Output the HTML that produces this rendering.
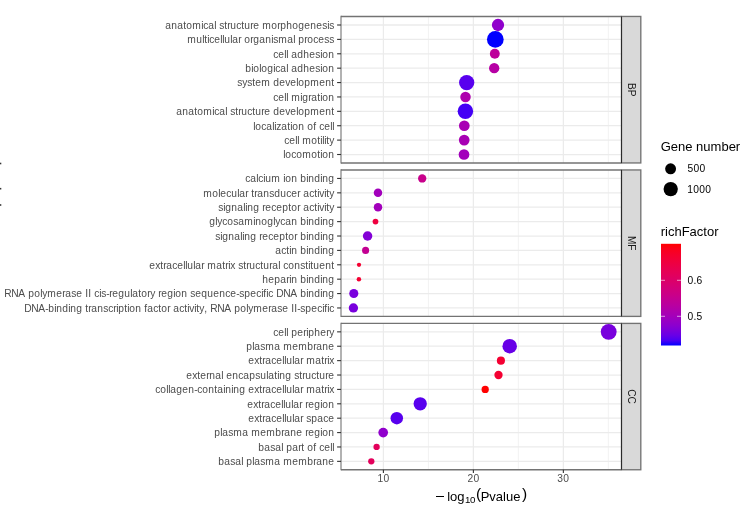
<!DOCTYPE html><html><head><meta charset="utf-8"><style>html,body{margin:0;padding:0;background:#fff;}svg{display:block;will-change:transform;}text{font-family:"Liberation Sans",sans-serif;white-space:pre;}</style></head><body>
<svg width="749" height="515" viewBox="0 0 749 515">
<rect width="749" height="515" fill="#fff"/>
<rect x="0" y="162.70" width="1.3" height="1.6" fill="#333"/>
<rect x="0" y="187.90" width="1.3" height="1.6" fill="#333"/>
<rect x="0" y="204.20" width="1.3" height="1.6" fill="#333"/>
<rect x="341.0" y="16.45" width="280.5" height="146.5" fill="#fff"/>
<line x1="428.39" y1="16.45" x2="428.39" y2="162.95" stroke="#ebebeb" stroke-width="0.65"/>
<line x1="518.37" y1="16.45" x2="518.37" y2="162.95" stroke="#ebebeb" stroke-width="0.65"/>
<line x1="608.3499999999999" y1="16.45" x2="608.3499999999999" y2="162.95" stroke="#ebebeb" stroke-width="0.65"/>
<line x1="383.4" y1="16.45" x2="383.4" y2="162.95" stroke="#ebebeb" stroke-width="1.26"/>
<line x1="473.38" y1="16.45" x2="473.38" y2="162.95" stroke="#ebebeb" stroke-width="1.26"/>
<line x1="563.3599999999999" y1="16.45" x2="563.3599999999999" y2="162.95" stroke="#ebebeb" stroke-width="1.26"/>
<line x1="341.0" y1="25.00" x2="621.5" y2="25.00" stroke="#ebebeb" stroke-width="1.26"/>
<line x1="341.0" y1="39.39" x2="621.5" y2="39.39" stroke="#ebebeb" stroke-width="1.26"/>
<line x1="341.0" y1="53.78" x2="621.5" y2="53.78" stroke="#ebebeb" stroke-width="1.26"/>
<line x1="341.0" y1="68.17" x2="621.5" y2="68.17" stroke="#ebebeb" stroke-width="1.26"/>
<line x1="341.0" y1="82.56" x2="621.5" y2="82.56" stroke="#ebebeb" stroke-width="1.26"/>
<line x1="341.0" y1="96.95" x2="621.5" y2="96.95" stroke="#ebebeb" stroke-width="1.26"/>
<line x1="341.0" y1="111.34" x2="621.5" y2="111.34" stroke="#ebebeb" stroke-width="1.26"/>
<line x1="341.0" y1="125.73" x2="621.5" y2="125.73" stroke="#ebebeb" stroke-width="1.26"/>
<line x1="341.0" y1="140.12" x2="621.5" y2="140.12" stroke="#ebebeb" stroke-width="1.26"/>
<line x1="341.0" y1="154.51" x2="621.5" y2="154.51" stroke="#ebebeb" stroke-width="1.26"/>
<circle cx="498.0" cy="25.00" r="6.15" fill="#9000cc"/>
<circle cx="495.3" cy="39.39" r="8.35" fill="#0000ff"/>
<circle cx="494.8" cy="53.78" r="4.95" fill="#bd009b"/>
<circle cx="494.2" cy="68.17" r="5.15" fill="#b600a4"/>
<circle cx="466.7" cy="82.56" r="7.65" fill="#5800ee"/>
<circle cx="465.5" cy="96.95" r="5.25" fill="#ae00ad"/>
<circle cx="465.4" cy="111.34" r="7.75" fill="#4300f5"/>
<circle cx="464.3" cy="125.73" r="5.35" fill="#a800b4"/>
<circle cx="464.2" cy="140.12" r="5.35" fill="#a800b4"/>
<circle cx="464.0" cy="154.51" r="5.35" fill="#a200bb"/>
<path d="M621.5,16.45H341.0" stroke="#737373" stroke-width="1.35" fill="none"/>
<path d="M621.5,162.95H341.0" stroke="#737373" stroke-width="1.35" fill="none"/>
<path d="M341.0,15.85V163.54999999999998" stroke="#737373" stroke-width="1.1" fill="none"/>
<rect x="621.5" y="16.45" width="19.299999999999955" height="146.5" fill="#d9d9d9" stroke="#737373" stroke-width="1.35"/>
<line x1="621.5" y1="16.45" x2="621.5" y2="162.95" stroke="#2b2b2b" stroke-width="1.05"/>
<g transform="translate(628.15,89.70) rotate(90)"><text x="-6.74 0" y="0" font-size="10.1" fill="#1a1a1a">BP</text></g>
<line x1="337.1" y1="25.00" x2="341.0" y2="25.00" stroke="#333" stroke-width="1.1"/>
<text x="165.2 171.2 177.2 183.2 186.2 192.2 201.2 203.2 208.2 214.2 216.2 219.2 224.2 227.2 230.2 236.2 241.2 244.2 250.2 253.2 259.2 262.2 271.2 277.2 280.2 286.2 292.2 298.2 304.2 310.2 316.2 322.2 327.2 329.2" y="29" font-size="10.25" fill="#4d4d4d">anatomical structure morphogenesis</text>
<line x1="337.1" y1="39.39" x2="341.0" y2="39.39" stroke="#333" stroke-width="1.1"/>
<text x="187.2 196.2 202.2 204.2 207.2 209.2 214.2 220.2 222.2 224.2 230.2 232.2 238.2 241.2 244.2 250.2 253.2 259.2 265.2 271.2 273.2 278.2 287.2 293.2 295.2 298.2 304.2 307.2 313.2 318.2 324.2 329.2" y="43" font-size="10.25" fill="#4d4d4d">multicellular organismal process</text>
<line x1="337.1" y1="53.78" x2="341.0" y2="53.78" stroke="#333" stroke-width="1.1"/>
<text x="273.2 278.2 284.2 286.2 288.2 291.2 297.2 303.2 309.2 315.2 320.2 322.2 328.2" y="58" font-size="10.25" fill="#4d4d4d">cell adhesion</text>
<line x1="337.1" y1="68.17" x2="341.0" y2="68.17" stroke="#333" stroke-width="1.1"/>
<text x="245.2 251.2 253.2 259.2 261.2 267.2 273.2 275.2 280.2 286.2 288.2 291.2 297.2 303.2 309.2 315.2 320.2 322.2 328.2" y="72" font-size="10.25" fill="#4d4d4d">biological adhesion</text>
<line x1="337.1" y1="82.56" x2="341.0" y2="82.56" stroke="#333" stroke-width="1.1"/>
<text x="237.2 242.2 247.2 252.2 255.2 261.2 270.2 273.2 279.2 285.2 290.2 296.2 298.2 304.2 310.2 319.2 325.2 331.2" y="86" font-size="10.25" fill="#4d4d4d">system development</text>
<line x1="337.1" y1="96.95" x2="341.0" y2="96.95" stroke="#333" stroke-width="1.1"/>
<text x="273.2 278.2 284.2 286.2 288.2 291.2 300.2 302.2 308.2 311.2 317.2 320.2 322.2 328.2" y="101" font-size="10.25" fill="#4d4d4d">cell migration</text>
<line x1="337.1" y1="111.34" x2="341.0" y2="111.34" stroke="#333" stroke-width="1.1"/>
<text x="176.2 182.2 188.2 194.2 197.2 203.2 212.2 214.2 219.2 225.2 227.2 230.2 235.2 238.2 241.2 247.2 252.2 255.2 261.2 264.2 270.2 273.2 279.2 285.2 290.2 296.2 298.2 304.2 310.2 319.2 325.2 331.2" y="115" font-size="10.25" fill="#4d4d4d">anatomical structure development</text>
<line x1="337.1" y1="125.73" x2="341.0" y2="125.73" stroke="#333" stroke-width="1.1"/>
<text x="253.2 255.2 261.2 266.2 272.2 274.2 276.2 281.2 287.2 290.2 292.2 298.2 304.2 307.2 313.2 316.2 319.2 324.2 330.2 332.2" y="130" font-size="10.25" fill="#4d4d4d">localization of cell</text>
<line x1="337.1" y1="140.12" x2="341.0" y2="140.12" stroke="#333" stroke-width="1.1"/>
<text x="284.2 289.2 295.2 297.2 299.2 302.2 311.2 317.2 320.2 322.2 324.2 326.2 329.2" y="144" font-size="10.25" fill="#4d4d4d">cell motility</text>
<line x1="337.1" y1="154.51" x2="341.0" y2="154.51" stroke="#333" stroke-width="1.1"/>
<text x="283.2 285.2 291.2 296.2 302.2 311.2 317.2 320.2 322.2 328.2" y="158" font-size="10.25" fill="#4d4d4d">locomotion</text>
<rect x="341.0" y="169.95" width="280.5" height="146.45" fill="#fff"/>
<line x1="428.39" y1="169.95" x2="428.39" y2="316.4" stroke="#ebebeb" stroke-width="0.65"/>
<line x1="518.37" y1="169.95" x2="518.37" y2="316.4" stroke="#ebebeb" stroke-width="0.65"/>
<line x1="608.3499999999999" y1="169.95" x2="608.3499999999999" y2="316.4" stroke="#ebebeb" stroke-width="0.65"/>
<line x1="383.4" y1="169.95" x2="383.4" y2="316.4" stroke="#ebebeb" stroke-width="1.26"/>
<line x1="473.38" y1="169.95" x2="473.38" y2="316.4" stroke="#ebebeb" stroke-width="1.26"/>
<line x1="563.3599999999999" y1="169.95" x2="563.3599999999999" y2="316.4" stroke="#ebebeb" stroke-width="1.26"/>
<line x1="341.0" y1="178.45" x2="621.5" y2="178.45" stroke="#ebebeb" stroke-width="1.26"/>
<line x1="341.0" y1="192.84" x2="621.5" y2="192.84" stroke="#ebebeb" stroke-width="1.26"/>
<line x1="341.0" y1="207.23" x2="621.5" y2="207.23" stroke="#ebebeb" stroke-width="1.26"/>
<line x1="341.0" y1="221.62" x2="621.5" y2="221.62" stroke="#ebebeb" stroke-width="1.26"/>
<line x1="341.0" y1="236.01" x2="621.5" y2="236.01" stroke="#ebebeb" stroke-width="1.26"/>
<line x1="341.0" y1="250.40" x2="621.5" y2="250.40" stroke="#ebebeb" stroke-width="1.26"/>
<line x1="341.0" y1="264.79" x2="621.5" y2="264.79" stroke="#ebebeb" stroke-width="1.26"/>
<line x1="341.0" y1="279.18" x2="621.5" y2="279.18" stroke="#ebebeb" stroke-width="1.26"/>
<line x1="341.0" y1="293.57" x2="621.5" y2="293.57" stroke="#ebebeb" stroke-width="1.26"/>
<line x1="341.0" y1="307.96" x2="621.5" y2="307.96" stroke="#ebebeb" stroke-width="1.26"/>
<circle cx="422.2" cy="178.45" r="4.15" fill="#c8008b"/>
<circle cx="378.0" cy="192.84" r="4.25" fill="#a200bb"/>
<circle cx="378.0" cy="207.23" r="4.25" fill="#a200bb"/>
<circle cx="375.5" cy="221.62" r="2.85" fill="#ef003f"/>
<circle cx="367.6" cy="236.01" r="4.75" fill="#8300d6"/>
<circle cx="365.6" cy="250.40" r="3.55" fill="#c30092"/>
<circle cx="359.0" cy="264.79" r="2.15" fill="#f40032"/>
<circle cx="358.9" cy="279.18" r="2.25" fill="#f40032"/>
<circle cx="353.8" cy="293.57" r="4.55" fill="#7900dd"/>
<circle cx="353.4" cy="307.96" r="4.65" fill="#7900dd"/>
<path d="M621.5,169.95H341.0" stroke="#737373" stroke-width="1.35" fill="none"/>
<path d="M621.5,316.4H341.0" stroke="#737373" stroke-width="1.35" fill="none"/>
<path d="M341.0,169.35V317.0" stroke="#737373" stroke-width="1.1" fill="none"/>
<rect x="621.5" y="169.95" width="19.299999999999955" height="146.45" fill="#d9d9d9" stroke="#737373" stroke-width="1.35"/>
<line x1="621.5" y1="169.95" x2="621.5" y2="316.4" stroke="#2b2b2b" stroke-width="1.05"/>
<g transform="translate(628.15,243.17) rotate(90)"><text x="-7.29 1.12" y="0" font-size="10.1" fill="#1a1a1a">MF</text></g>
<line x1="337.1" y1="178.45" x2="341.0" y2="178.45" stroke="#333" stroke-width="1.1"/>
<text x="245.2 250.2 256.2 258.2 263.2 265.2 271.2 280.2 283.2 285.2 291.2 297.2 300.2 306.2 308.2 314.2 320.2 322.2 328.2" y="182" font-size="10.25" fill="#4d4d4d">calcium ion binding</text>
<line x1="337.1" y1="192.84" x2="341.0" y2="192.84" stroke="#333" stroke-width="1.1"/>
<text x="203.2 212.2 218.2 220.2 226.2 231.2 237.2 239.2 245.2 248.2 251.2 254.2 257.2 263.2 269.2 274.2 280.2 286.2 291.2 297.2 300.2 303.2 309.2 314.2 317.2 319.2 324.2 326.2 329.2" y="197" font-size="10.25" fill="#4d4d4d">molecular transducer activity</text>
<line x1="337.1" y1="207.23" x2="341.0" y2="207.23" stroke="#333" stroke-width="1.1"/>
<text x="218.2 223.2 225.2 231.2 237.2 243.2 245.2 247.2 253.2 259.2 262.2 265.2 271.2 276.2 282.2 288.2 291.2 297.2 300.2 303.2 309.2 314.2 317.2 319.2 324.2 326.2 329.2" y="211" font-size="10.25" fill="#4d4d4d">signaling receptor activity</text>
<line x1="337.1" y1="221.62" x2="341.0" y2="221.62" stroke="#333" stroke-width="1.1"/>
<text x="209.2 215.2 217.2 222.2 227.2 233.2 238.2 244.2 253.2 255.2 261.2 267.2 273.2 275.2 280.2 285.2 291.2 297.2 300.2 306.2 308.2 314.2 320.2 322.2 328.2" y="225" font-size="10.25" fill="#4d4d4d">glycosaminoglycan binding</text>
<line x1="337.1" y1="236.01" x2="341.0" y2="236.01" stroke="#333" stroke-width="1.1"/>
<text x="215.2 220.2 222.2 228.2 234.2 240.2 242.2 244.2 250.2 256.2 259.2 262.2 268.2 273.2 279.2 285.2 288.2 294.2 297.2 300.2 306.2 308.2 314.2 320.2 322.2 328.2" y="240" font-size="10.25" fill="#4d4d4d">signaling receptor binding</text>
<line x1="337.1" y1="250.40" x2="341.0" y2="250.40" stroke="#333" stroke-width="1.1"/>
<text x="275.2 281.2 286.2 289.2 291.2 297.2 300.2 306.2 308.2 314.2 320.2 322.2 328.2" y="254" font-size="10.25" fill="#4d4d4d">actin binding</text>
<line x1="337.1" y1="264.79" x2="341.0" y2="264.79" stroke="#333" stroke-width="1.1"/>
<text x="149.2 155.2 160.2 163.2 166.2 172.2 177.2 183.2 185.2 187.2 193.2 195.2 201.2 204.2 207.2 216.2 222.2 225.2 228.2 230.2 235.2 238.2 243.2 246.2 249.2 255.2 260.2 263.2 269.2 272.2 278.2 280.2 283.2 288.2 294.2 300.2 305.2 308.2 310.2 313.2 319.2 325.2 331.2" y="269" font-size="10.25" fill="#4d4d4d">extracellular matrix structural constituent</text>
<line x1="337.1" y1="279.18" x2="341.0" y2="279.18" stroke="#333" stroke-width="1.1"/>
<text x="262.2 268.2 274.2 280.2 286.2 289.2 291.2 297.2 300.2 306.2 308.2 314.2 320.2 322.2 328.2" y="283" font-size="10.25" fill="#4d4d4d">heparin binding</text>
<line x1="337.1" y1="293.57" x2="341.0" y2="293.57" stroke="#333" stroke-width="1.1"/>
<text x="4.2 11.2 18.2 25.2 28.2 34.2 40.2 42.2 47.2 56.2 62.2 65.2 71.2 76.2 82.2 85.2 88.2 91.2 94.2 99.2 101.2 106.2 109.2 112.2 118.2 124.2 130.2 132.2 138.2 141.2 147.2 150.2 155.2 158.2 161.2 167.2 173.2 175.2 181.2 187.2 190.2 195.2 201.2 207.2 213.2 219.2 225.2 230.2 236.2 239.2 244.2 250.2 256.2 261.2 263.2 266.2 268.2 273.2 276.2 283.2 290.2 297.2 300.2 306.2 308.2 314.2 320.2 322.2 328.2" y="297" font-size="10.25" fill="#4d4d4d">RNA polymerase II cis-regulatory region sequence-specific DNA binding</text>
<line x1="337.1" y1="307.96" x2="341.0" y2="307.96" stroke="#333" stroke-width="1.1"/>
<text x="24.2 31.2 38.2 45.2 48.2 54.2 56.2 62.2 68.2 70.2 76.2 82.2 85.2 88.2 91.2 97.2 103.2 108.2 113.2 116.2 118.2 124.2 127.2 129.2 135.2 141.2 144.2 147.2 153.2 158.2 161.2 167.2 170.2 173.2 179.2 184.2 187.2 189.2 194.2 196.2 199.2 204.2 207.2 210.2 217.2 224.2 231.2 234.2 240.2 246.2 248.2 253.2 262.2 268.2 271.2 277.2 282.2 288.2 291.2 294.2 297.2 300.2 305.2 311.2 317.2 322.2 324.2 327.2 329.2" y="312" font-size="10.25" fill="#4d4d4d">DNA-binding transcription factor activity, RNA polymerase II-specific</text>
<rect x="341.0" y="323.4" width="280.5" height="146.35000000000002" fill="#fff"/>
<line x1="428.39" y1="323.4" x2="428.39" y2="469.75" stroke="#ebebeb" stroke-width="0.65"/>
<line x1="518.37" y1="323.4" x2="518.37" y2="469.75" stroke="#ebebeb" stroke-width="0.65"/>
<line x1="608.3499999999999" y1="323.4" x2="608.3499999999999" y2="469.75" stroke="#ebebeb" stroke-width="0.65"/>
<line x1="383.4" y1="323.4" x2="383.4" y2="469.75" stroke="#ebebeb" stroke-width="1.26"/>
<line x1="473.38" y1="323.4" x2="473.38" y2="469.75" stroke="#ebebeb" stroke-width="1.26"/>
<line x1="563.3599999999999" y1="323.4" x2="563.3599999999999" y2="469.75" stroke="#ebebeb" stroke-width="1.26"/>
<line x1="341.0" y1="331.85" x2="621.5" y2="331.85" stroke="#ebebeb" stroke-width="1.26"/>
<line x1="341.0" y1="346.24" x2="621.5" y2="346.24" stroke="#ebebeb" stroke-width="1.26"/>
<line x1="341.0" y1="360.63" x2="621.5" y2="360.63" stroke="#ebebeb" stroke-width="1.26"/>
<line x1="341.0" y1="375.02" x2="621.5" y2="375.02" stroke="#ebebeb" stroke-width="1.26"/>
<line x1="341.0" y1="389.41" x2="621.5" y2="389.41" stroke="#ebebeb" stroke-width="1.26"/>
<line x1="341.0" y1="403.80" x2="621.5" y2="403.80" stroke="#ebebeb" stroke-width="1.26"/>
<line x1="341.0" y1="418.19" x2="621.5" y2="418.19" stroke="#ebebeb" stroke-width="1.26"/>
<line x1="341.0" y1="432.58" x2="621.5" y2="432.58" stroke="#ebebeb" stroke-width="1.26"/>
<line x1="341.0" y1="446.97" x2="621.5" y2="446.97" stroke="#ebebeb" stroke-width="1.26"/>
<line x1="341.0" y1="461.36" x2="621.5" y2="461.36" stroke="#ebebeb" stroke-width="1.26"/>
<circle cx="608.7" cy="331.85" r="7.95" fill="#7900dd"/>
<circle cx="509.7" cy="346.24" r="7.25" fill="#6800e7"/>
<circle cx="500.9" cy="360.63" r="4.05" fill="#f40032"/>
<circle cx="498.5" cy="375.02" r="4.15" fill="#f40032"/>
<circle cx="485.2" cy="389.41" r="3.65" fill="#ff0000"/>
<circle cx="420.2" cy="403.80" r="6.65" fill="#5800ee"/>
<circle cx="396.8" cy="418.19" r="6.25" fill="#5800ee"/>
<circle cx="383.2" cy="432.58" r="4.85" fill="#9000cc"/>
<circle cx="376.6" cy="446.97" r="3.15" fill="#e3005b"/>
<circle cx="371.3" cy="461.36" r="3.15" fill="#e3005b"/>
<path d="M621.5,323.4H341.0" stroke="#737373" stroke-width="1.35" fill="none"/>
<path d="M621.5,469.75H341.0" stroke="#737373" stroke-width="1.35" fill="none"/>
<path d="M341.0,322.79999999999995V470.35" stroke="#737373" stroke-width="1.1" fill="none"/>
<rect x="621.5" y="323.4" width="19.299999999999955" height="146.35000000000002" fill="#d9d9d9" stroke="#737373" stroke-width="1.35"/>
<line x1="621.5" y1="323.4" x2="621.5" y2="469.75" stroke="#2b2b2b" stroke-width="1.05"/>
<g transform="translate(628.15,396.57) rotate(90)"><text x="-7.29 0" y="0" font-size="10.1" fill="#1a1a1a">CC</text></g>
<line x1="337.1" y1="331.85" x2="341.0" y2="331.85" stroke="#333" stroke-width="1.1"/>
<text x="273.2 278.2 284.2 286.2 288.2 291.2 297.2 303.2 306.2 308.2 314.2 320.2 326.2 329.2" y="336" font-size="10.25" fill="#4d4d4d">cell periphery</text>
<line x1="337.1" y1="346.24" x2="341.0" y2="346.24" stroke="#333" stroke-width="1.1"/>
<text x="246.2 252.2 254.2 260.2 265.2 274.2 280.2 283.2 292.2 298.2 307.2 313.2 316.2 322.2 328.2" y="350" font-size="10.25" fill="#4d4d4d">plasma membrane</text>
<line x1="337.1" y1="360.63" x2="341.0" y2="360.63" stroke="#333" stroke-width="1.1"/>
<text x="248.2 254.2 259.2 262.2 265.2 271.2 276.2 282.2 284.2 286.2 292.2 294.2 300.2 303.2 306.2 315.2 321.2 324.2 327.2 329.2" y="364" font-size="10.25" fill="#4d4d4d">extracellular matrix</text>
<line x1="337.1" y1="375.02" x2="341.0" y2="375.02" stroke="#333" stroke-width="1.1"/>
<text x="186.2 192.2 197.2 200.2 206.2 209.2 215.2 221.2 223.2 226.2 232.2 238.2 243.2 249.2 255.2 260.2 266.2 268.2 274.2 277.2 279.2 285.2 291.2 294.2 299.2 302.2 305.2 311.2 316.2 319.2 325.2 328.2" y="379" font-size="10.25" fill="#4d4d4d">external encapsulating structure</text>
<line x1="337.1" y1="389.41" x2="341.0" y2="389.41" stroke="#333" stroke-width="1.1"/>
<text x="155.2 160.2 166.2 168.2 170.2 176.2 182.2 188.2 194.2 197.2 202.2 208.2 214.2 217.2 223.2 225.2 231.2 233.2 239.2 245.2 248.2 254.2 259.2 262.2 265.2 271.2 276.2 282.2 284.2 286.2 292.2 294.2 300.2 303.2 306.2 315.2 321.2 324.2 327.2 329.2" y="393" font-size="10.25" fill="#4d4d4d">collagen-containing extracellular matrix</text>
<line x1="337.1" y1="403.80" x2="341.0" y2="403.80" stroke="#333" stroke-width="1.1"/>
<text x="247.2 253.2 258.2 261.2 264.2 270.2 275.2 281.2 283.2 285.2 291.2 293.2 299.2 302.2 305.2 308.2 314.2 320.2 322.2 328.2" y="408" font-size="10.25" fill="#4d4d4d">extracellular region</text>
<line x1="337.1" y1="418.19" x2="341.0" y2="418.19" stroke="#333" stroke-width="1.1"/>
<text x="248.2 254.2 259.2 262.2 265.2 271.2 276.2 282.2 284.2 286.2 292.2 294.2 300.2 303.2 306.2 311.2 317.2 323.2 328.2" y="422" font-size="10.25" fill="#4d4d4d">extracellular space</text>
<line x1="337.1" y1="432.58" x2="341.0" y2="432.58" stroke="#333" stroke-width="1.1"/>
<text x="214.2 220.2 222.2 228.2 233.2 242.2 248.2 251.2 260.2 266.2 275.2 281.2 284.2 290.2 296.2 302.2 305.2 308.2 314.2 320.2 322.2 328.2" y="436" font-size="10.25" fill="#4d4d4d">plasma membrane region</text>
<line x1="337.1" y1="446.97" x2="341.0" y2="446.97" stroke="#333" stroke-width="1.1"/>
<text x="258.2 264.2 270.2 275.2 281.2 283.2 286.2 292.2 298.2 301.2 304.2 307.2 313.2 316.2 319.2 324.2 330.2 332.2" y="451" font-size="10.25" fill="#4d4d4d">basal part of cell</text>
<line x1="337.1" y1="461.36" x2="341.0" y2="461.36" stroke="#333" stroke-width="1.1"/>
<text x="218.2 224.2 230.2 235.2 241.2 243.2 246.2 252.2 254.2 260.2 265.2 274.2 280.2 283.2 292.2 298.2 307.2 313.2 316.2 322.2 328.2" y="465" font-size="10.25" fill="#4d4d4d">basal plasma membrane</text>
<line x1="383.4" y1="469.75" x2="383.4" y2="473.05" stroke="#333" stroke-width="1.1"/>
<text x="377.4 383.4" y="482" font-size="10.25" fill="#4d4d4d">10</text>
<line x1="473.38" y1="469.75" x2="473.38" y2="473.05" stroke="#333" stroke-width="1.1"/>
<text x="467.38 473.38" y="482" font-size="10.25" fill="#4d4d4d">20</text>
<line x1="563.3599999999999" y1="469.75" x2="563.3599999999999" y2="473.05" stroke="#333" stroke-width="1.1"/>
<text x="557.36 563.36" y="482" font-size="10.25" fill="#4d4d4d">30</text>
<rect x="436" y="496" width="8" height="1" fill="#000"/>
<text x="447.2 450.09 457.32" y="501" font-size="13.0" fill="#000">log</text>
<text x="465 470" y="503" font-size="9.7" fill="#000">10</text>
<text x="476.1" y="499.3" font-size="15.5" fill="#000">(</text>
<text x="480.7 489.37 495.87 503.1 505.99 513.22" y="501" font-size="13.0" fill="#000">Pvalue</text>
<text x="521.9" y="499.3" font-size="15.5" fill="#000">)</text>
<text x="660.7 670.81 678.04 685.27 692.5 696.11 703.34 710.57 721.4 728.63 735.86" y="151" font-size="13.0" fill="#000">Gene number</text>
<circle cx="670.6" cy="168.8" r="5.45" fill="#000"/>
<circle cx="670.7" cy="189.1" r="7.15" fill="#000"/>
<text x="687.4 693.4 699.4" y="172" font-size="10.25" fill="#000">500</text>
<text x="687.3 693.3 699.3 705.3" y="193" font-size="10.25" fill="#000">1000</text>
<text x="660.7 665.03 667.92 674.42 681.65 689.59 696.82 703.32 706.93 714.16" y="236" font-size="13.0" fill="#000">richFactor</text>
<defs><linearGradient id="cb" x1="0" y1="1" x2="0" y2="0">
<stop offset="0.0" stop-color="#0000ff"/>
<stop offset="0.05" stop-color="#4b00f3"/>
<stop offset="0.1" stop-color="#6800e7"/>
<stop offset="0.15" stop-color="#7c00da"/>
<stop offset="0.2" stop-color="#8d00ce"/>
<stop offset="0.25" stop-color="#9a00c3"/>
<stop offset="0.3" stop-color="#a600b7"/>
<stop offset="0.35" stop-color="#b000ab"/>
<stop offset="0.4" stop-color="#ba009f"/>
<stop offset="0.45" stop-color="#c20094"/>
<stop offset="0.5" stop-color="#ca0088"/>
<stop offset="0.55" stop-color="#d1007d"/>
<stop offset="0.6" stop-color="#d70072"/>
<stop offset="0.65" stop-color="#dd0066"/>
<stop offset="0.7" stop-color="#e3005b"/>
<stop offset="0.75" stop-color="#e80050"/>
<stop offset="0.8" stop-color="#ed0044"/>
<stop offset="0.85" stop-color="#f20037"/>
<stop offset="0.9" stop-color="#f6002a"/>
<stop offset="0.95" stop-color="#fb001a"/>
<stop offset="1.0" stop-color="#ff0000"/>
</linearGradient></defs>
<rect x="661" y="243.8" width="20" height="101.7" fill="url(#cb)"/>
<line x1="661" y1="280.3" x2="665" y2="280.3" stroke="#fff" stroke-opacity="0.6" stroke-width="1"/>
<line x1="677" y1="280.3" x2="681" y2="280.3" stroke="#fff" stroke-opacity="0.6" stroke-width="1"/>
<line x1="661" y1="316.3" x2="665" y2="316.3" stroke="#fff" stroke-opacity="0.6" stroke-width="1"/>
<line x1="677" y1="316.3" x2="681" y2="316.3" stroke="#fff" stroke-opacity="0.6" stroke-width="1"/>
<text x="687.4 693.4 696.4" y="284" font-size="10.25" fill="#000">0.6</text>
<text x="687.4 693.4 696.4" y="320" font-size="10.25" fill="#000">0.5</text>
</svg></body></html>
